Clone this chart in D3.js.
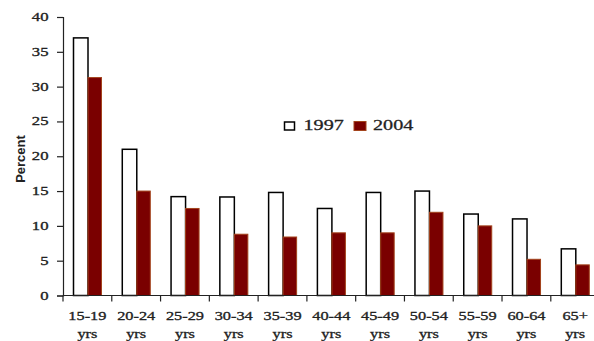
<!DOCTYPE html>
<html>
<head>
<meta charset="utf-8">
<script src="https://cdn.jsdelivr.net/npm/d3@7"></script>
<style>
  html, body { margin: 0; padding: 0; background: #fff; }
  svg { display: block; }
</style>
</head>
<body>
<script>
// Age groups and percentages for the two survey years
const ageGroups = ["15-19", "20-24", "25-29", "30-34", "35-39", "40-44", "45-49", "50-54", "55-59", "60-64", "65+"];
const values1997 = [37.0, 21.0, 14.2, 14.15, 14.8, 12.5, 14.8, 15.0, 11.7, 11.0, 6.7];
const values2004 = [31.3, 15.0, 12.5, 8.8, 8.4, 9.0, 9.0, 11.95, 10.0, 5.2, 4.4];
const seriesNames = ["1997", "2004"];
const yTicks = [0, 5, 10, 15, 20, 25, 30, 35, 40];

const W = 594, H = 341;
const svg = d3.select("body").append("svg").attr("width", W).attr("height", H);

const x0 = 63, bandW = 48.78;
const x = d3.scaleBand().domain(ageGroups).range([x0, x0 + bandW * ageGroups.length]).paddingInner(0).paddingOuter(0);
const y = d3.scaleLinear().domain([0, 40]).range([295.5, 17]);

const serif = "'Liberation Serif', 'Times New Roman', serif";
const ink = "#222";
const barW = 14.5, offset = 10.5;

// Wide serif label: horizontally stretched text anchored at (px, py)
function wideText(parent, px, py, str, size, sx, anchor) {
  return parent.append("g").attr("transform", `translate(${px},${py})`)
    .append("text").attr("transform", `scale(${sx},1)`)
    .attr("text-anchor", anchor)
    .attr("font-family", serif).attr("font-size", size).attr("fill", ink)
    .attr("stroke", ink).attr("stroke-width", 0.3)
    .text(str);
}

// 1997 bars: white with black outline
svg.append("g").selectAll("rect").data(values1997).join("rect")
  .attr("x", (d, i) => x(ageGroups[i]) + offset)
  .attr("y", d => y(d))
  .attr("width", barW)
  .attr("height", d => y(0) - y(d))
  .attr("fill", "#fff").attr("stroke", "#000").attr("stroke-width", 1.5);

// 2004 bars: dark red
svg.append("g").selectAll("rect").data(values2004).join("rect")
  .attr("x", (d, i) => x(ageGroups[i]) + offset + barW)
  .attr("y", d => y(d))
  .attr("width", barW - 1)
  .attr("height", d => y(0) - y(d))
  .attr("fill", "#7a0000").attr("stroke", "#a3431c").attr("stroke-width", 1);

// Y axis (line and ticks from d3, labels drawn wide)
const yAxis = svg.append("g").attr("transform", `translate(${x0},0)`)
  .call(d3.axisLeft(y).tickValues(yTicks).tickSize(6).tickFormat(""));
yAxis.select(".domain").attr("stroke", ink).attr("stroke-width", 1.2);
yAxis.selectAll(".tick line").attr("stroke", ink).attr("stroke-width", 1.2);
const yLabels = svg.append("g");
yTicks.forEach(t => wideText(yLabels, 48.5, y(t) + 4, String(t), 11.5, 1.45, "end"));

// X axis with ticks at band boundaries
const xg = svg.append("g");
xg.append("line").attr("x1", x0).attr("x2", x0 + bandW * ageGroups.length)
  .attr("y1", y(0)).attr("y2", y(0)).attr("stroke", ink).attr("stroke-width", 1.2);
xg.selectAll("line.tk").data(d3.range(ageGroups.length + 1)).join("line").attr("class", "tk")
  .attr("x1", i => x0 + bandW * i).attr("x2", i => x0 + bandW * i)
  .attr("y1", y(0)).attr("y2", y(0) + 6).attr("stroke", ink).attr("stroke-width", 1.2);
ageGroups.forEach(g => {
  const cx = x(g) + x.bandwidth() / 2;
  wideText(xg, cx, 319.5, g, 11.5, 1.42, "middle");
  wideText(xg, cx, 337.5, "yrs", 11.5, 1.42, "middle");
});

// Y axis title
svg.append("text").attr("transform", "translate(25,159) rotate(-90)")
  .attr("text-anchor", "middle").attr("font-family", "'Liberation Sans', Arial, sans-serif")
  .attr("font-size", 13).attr("font-weight", "bold").attr("fill", ink).text("Percent");

// Legend
const legend = svg.append("g");
legend.append("rect").attr("x", 284.5).attr("y", 122).attr("width", 10).attr("height", 8)
  .attr("fill", "#fff").attr("stroke", "#000").attr("stroke-width", 1.5);
wideText(legend, 303.5, 129.5, seriesNames[0], 15.5, 1.3, "start");
legend.append("rect").attr("x", 354).attr("y", 121.5).attr("width", 12).attr("height", 9)
  .attr("fill", "#7a0000").attr("stroke", "#a3431c").attr("stroke-width", 1);
wideText(legend, 373, 129.5, seriesNames[1], 15.5, 1.3, "start");
</script>
</body>
</html>
